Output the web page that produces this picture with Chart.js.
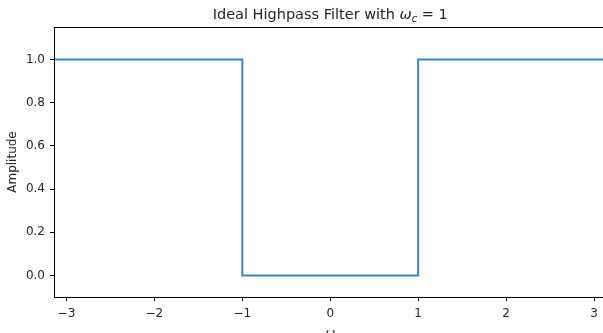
<!DOCTYPE html>
<html lang="en">
<head>
  <meta charset="UTF-8">
  <title>Ideal Highpass Filter</title>
  <style>
    html, body { margin: 0; padding: 0; background: #fff; overflow: hidden; }
    canvas { display: block; }
  </style>
</head>
<body>
  <canvas id="myChart" width="610" height="333"></canvas>

  <script src="https://cdn.jsdelivr.net/npm/chart.js"></script>

  <script>
    // step response of the ideal highpass filter, omega from -pi to pi
    const omega = [-Math.PI, -1, -1, 1, 1, Math.PI];
    const amplitude = [1, 1, 0, 0, 1, 1];

    const xTicks = [-3, -2, -1, 0, 1, 2, 3];
    const yTicks = [0, 0.2, 0.4, 0.6, 0.8, 1.0];

    const FONT = "'DejaVu Sans', sans-serif";
    const TEXT = '#262626';

    const points = omega.map((w, i) => ({ x: w, y: amplitude[i] }));

    // title with math subscript, axis labels and the box round the plot
    const labelsPlugin = {
      id: 'labels',
      afterDraw(chart) {
        const c = chart.ctx;
        const a = chart.chartArea;
        c.save();
        c.strokeStyle = '#000';
        c.lineWidth = 1;
        c.strokeRect(Math.round(a.left) + 0.5, Math.round(a.top) + 0.5,
          Math.round(a.right - a.left), Math.round(a.bottom - a.top));

        c.fillStyle = TEXT;
        c.textBaseline = 'alphabetic';
        c.textAlign = 'left';
        const mid = (a.left + a.right) / 2;
        const base = 19;
        const p1 = 'Ideal Highpass Filter with ';
        const p2 = '\u03c9';
        const p3 = 'c';
        const p4 = ' = 1';
        const big = 14.5, small = 10;
        c.font = big + 'px ' + FONT;
        const w1 = c.measureText(p1).width;
        const w4 = c.measureText(p4).width;
        c.font = 'italic ' + big + 'px ' + FONT;
        const w2 = c.measureText(p2).width;
        c.font = 'italic ' + small + 'px ' + FONT;
        const w3 = c.measureText(p3).width;
        let x = mid - (w1 + w2 + w3 + w4) / 2;
        c.font = big + 'px ' + FONT;
        c.fillText(p1, x, base); x += w1;
        c.font = 'italic ' + big + 'px ' + FONT;
        c.fillText(p2, x, base); x += w2;
        c.font = 'italic ' + small + 'px ' + FONT;
        c.fillText(p3, x, base + 3); x += w3;
        c.font = big + 'px ' + FONT;
        c.fillText(p4, x, base);

        c.font = 'italic 12px ' + FONT;
        c.textAlign = 'center';
        c.fillText('\u03c9', mid, 337);

        c.translate(16, (a.top + a.bottom) / 2);
        c.rotate(-Math.PI / 2);
        c.font = '12px ' + FONT;
        c.fillText('Amplitude', 0, 0);
        c.restore();
      }
    };

    const ctx = document.getElementById('myChart').getContext('2d');
    let chart = new Chart(ctx, {
      type: 'scatter',
      data: {
        datasets: [{
          label: 'H',
          data: points,
          showLine: true,
          borderColor: '#3585c2',
          borderWidth: 2,
          pointRadius: 0,
          fill: false
        }]
      },
      options: {
        responsive: false,
        animation: false,
        layout: { padding: { top: 27, right: 3.5, left: 0, bottom: 0 } },
        plugins: {
          legend: { display: false },
          tooltip: { enabled: false },
          title: { display: false }
        },
        scales: {
          x: {
            type: 'linear',
            min: -Math.PI,
            max: Math.PI,
            afterFit: s => { s.height = 36; },
            afterBuildTicks: s => { s.ticks = xTicks.map(v => ({ value: v })); },
            grid: { drawOnChartArea: false, drawTicks: true, tickLength: 4, color: '#000' },
            border: { display: true, color: '#000', width: 1 },
            ticks: {
              padding: 6,
              maxRotation: 0,
              color: TEXT,
              font: { family: FONT, size: 12 },
              callback: v => String(v).replace('-', '\u2212')
            }
          },
          y: {
            type: 'linear',
            min: -0.1,
            max: 1.15,
            afterFit: s => { s.width = 54; },
            afterBuildTicks: s => { s.ticks = yTicks.map(v => ({ value: v })); },
            grid: { drawOnChartArea: false, drawTicks: true, tickLength: 4, color: '#000' },
            border: { display: true, color: '#000', width: 1 },
            ticks: {
              padding: 5,
              color: TEXT,
              font: { family: FONT, size: 12 },
              callback: v => v.toFixed(1)
            }
          }
        }
      },
      plugins: [labelsPlugin]
    });
  </script>
</body>
</html>
